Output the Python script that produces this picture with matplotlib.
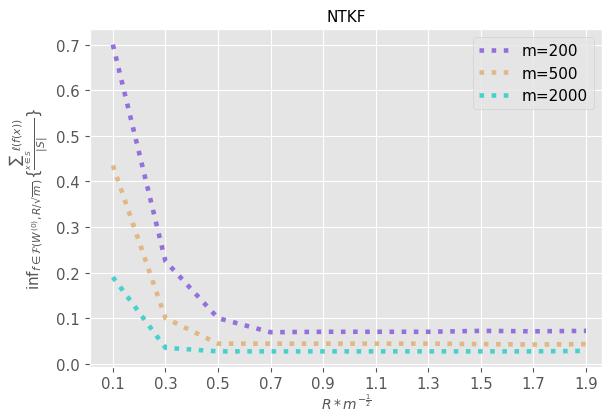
import matplotlib
matplotlib.use("Agg")
import matplotlib.pyplot as plt

# data
r_vals = [0.1, 0.3, 0.5, 0.7, 0.9, 1.1, 1.3, 1.5, 1.7, 1.9]
loss_200 = [0.700, 0.225, 0.100, 0.069, 0.070, 0.070, 0.070, 0.072, 0.071, 0.072]
loss_500 = [0.435, 0.100, 0.044, 0.044, 0.044, 0.044, 0.044, 0.043, 0.042, 0.043]
loss_2000 = [0.190, 0.035, 0.027, 0.027, 0.027, 0.027, 0.027, 0.027, 0.027, 0.028]
labels = ["m=200", "m=500", "m=2000"]
colors = ["#9370DB", "#DEB887", "#48D1CC"]

plt.style.use("ggplot")
plt.rcParams["mathtext.fontset"] = "dejavusans"

fig = plt.figure(figsize=(6.03, 4.14), dpi=100)
ax = fig.add_axes([0.149, 0.1118, 0.849, 0.815])

for ys, lab, c in zip([loss_200, loss_500, loss_2000], labels, colors):
    ax.plot(r_vals, ys, linestyle=":", linewidth=3.3, color=c, label=lab)

ax.set_xticks(r_vals)
ax.set_xlim(0.0125, 1.96)
ax.tick_params(labelsize=10.7)
ax.set_title("NTKF", fontsize=11)
ax.set_xlabel(r"$R*m^{-\frac{1}{2}}$", fontsize=10, labelpad=1)
ax.set_ylabel(r"$\mathrm{inf}_{f\in\mathcal{F}(W^{(0)},R/\sqrt{m})}\{\frac{\sum_{x\in S}\ell(f(x))}{|S|}\}$",
              fontsize=11)
ax.legend(loc="upper right", fontsize=11)

fig.savefig("out.png", dpi=100)
